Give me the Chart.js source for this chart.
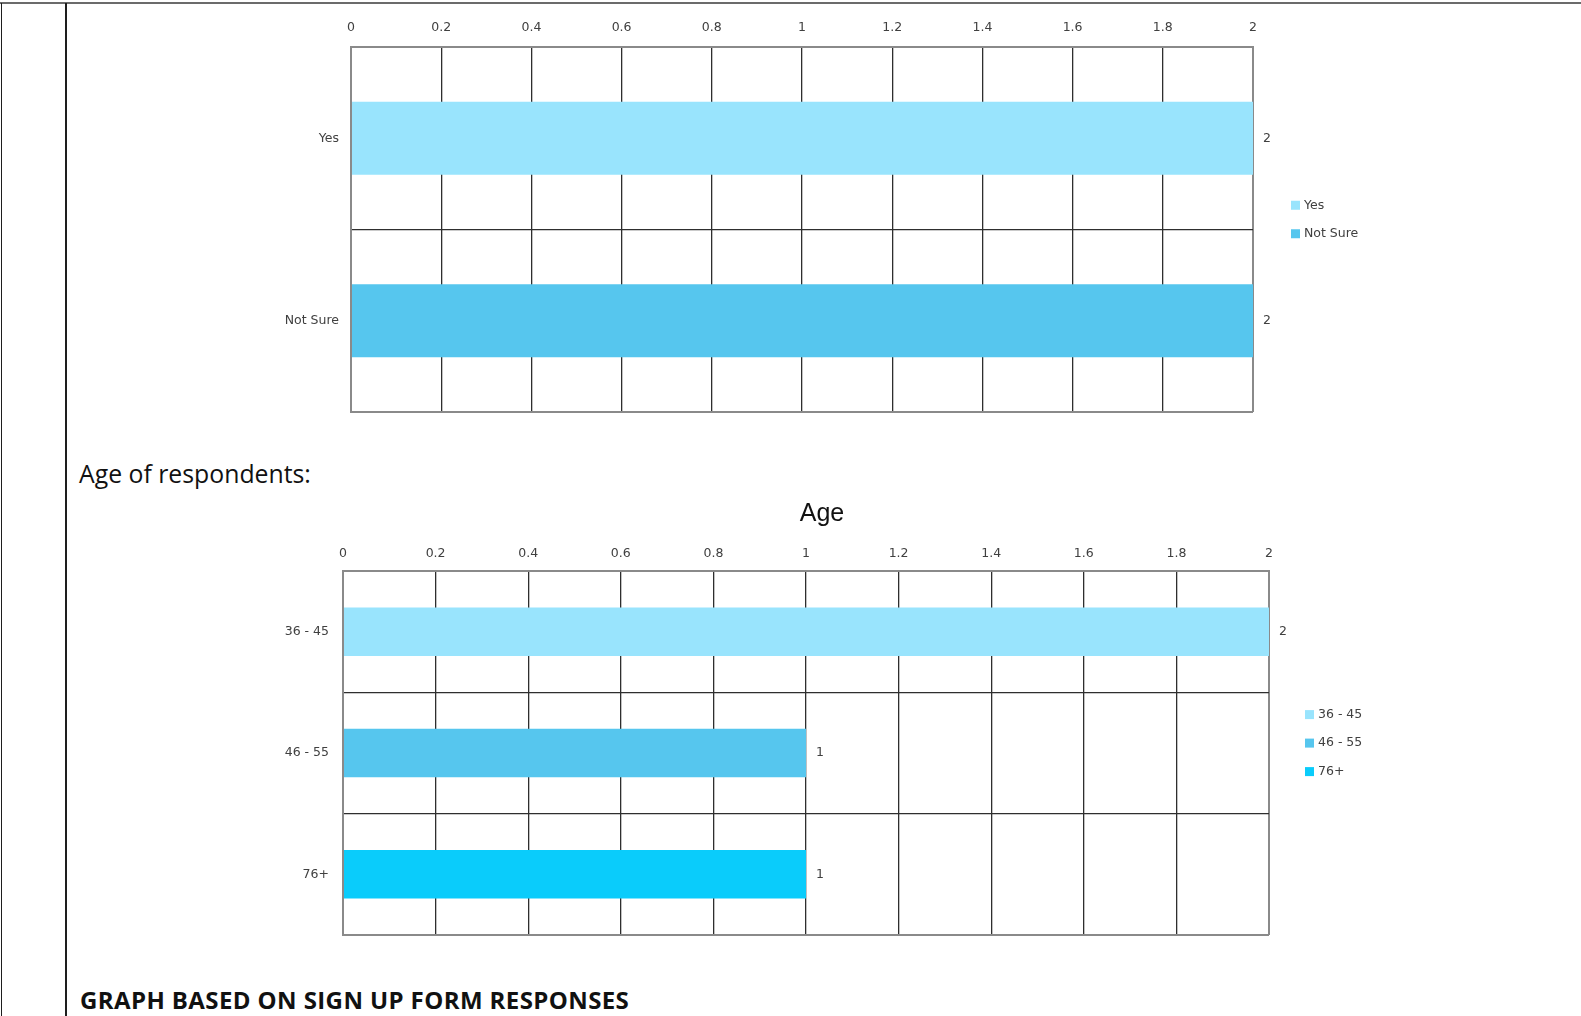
<!DOCTYPE html>
<html>
<head>
<meta charset="utf-8">
<script src="https://cdn.jsdelivr.net/npm/chart.js@4.4.1/dist/chart.umd.min.js"></script>
<style>
    html, body { margin: 0; padding: 0; background: #fff; }
    body { width: 1581px; height: 1016px; overflow: hidden; position: relative; }
    .rule { position: absolute; background: #1e1e1e; }
    .txt { position: absolute; font-family: "Open Sans"; color: #111; white-space: nowrap; line-height: 1; }
    canvas { position: absolute; left: 0; }
</style>
</head>
<body>
<div class="rule" style="left:0;top:2px;width:1581px;height:2px;background:#6b6b6b"></div>
<div class="rule" style="left:1px;top:3px;width:1px;height:1013px"></div>
<div class="rule" style="left:65px;top:3px;width:2px;height:1013px"></div>

<canvas id="interestChart" width="1581" height="430" style="top:0"></canvas>

<div class="txt" style="left:79px;top:461px;font-size:24.8px">Age of respondents:</div>

<canvas id="ageChart" width="1644" height="470" style="top:480px"></canvas>

<div class="txt" style="left:80px;top:988px;font-size:24px;font-weight:700;letter-spacing:0.4px">GRAPH BASED ON SIGN UP FORM RESPONSES</div>

<script>
// first chart (no visible title)
const interestLabels = ['Yes', 'Not Sure'];
const interestValues = [2, 2];
const interestColors = ['#99e4fd', '#56c6ee'];

// "Age" chart
const ageLabels = ['36 - 45', '46 - 55', '76+'];
const ageValues = [2, 1, 1];
const ageColors = ['#99e4fd', '#56c6ee', '#0accfb'];

const axisMin = 0;
const axisMax = 2;
const axisStep = 0.2;

Chart.defaults.font.family = '"DejaVu Sans"';
Chart.defaults.font.size = 12.5;
Chart.defaults.color = '#404040';

const edgeColor = '#8a8a8a';
const innerColor = '#2e2e2e';

// value printed just after the end of each bar
const valueLabels = {
    id: 'valueLabels',
    afterDatasetsDraw(chart) {
        const ctx = chart.ctx;
        const data = chart.data.datasets[0].data;
        ctx.save();
        ctx.font = '12.5px "DejaVu Sans"';
        ctx.fillStyle = '#404040';
        ctx.textAlign = 'left';
        ctx.textBaseline = 'middle';
        chart.getDatasetMeta(0).data.forEach((bar, i) => ctx.fillText(data[i], bar.x + 10, bar.y));
        ctx.restore();
    }
};

// excel style legend : one entry per category, right of the plot
const sideLegend = {
    id: 'sideLegend',
    afterDraw(chart, args, opts) {
        const ctx = chart.ctx;
        const area = chart.chartArea;
        const labels = chart.data.labels;
        const colors = chart.data.datasets[0].backgroundColor;
        const gap = 28.5;
        const y0 = (area.top + area.bottom) / 2 - 10 - gap * (labels.length - 1) / 2;
        const x = area.right + opts.offset;
        ctx.save();
        ctx.font = '12.5px "DejaVu Sans"';
        ctx.textAlign = 'left';
        ctx.textBaseline = 'middle';
        labels.forEach((label, i) => {
            const y = y0 + i * gap;
            ctx.fillStyle = colors[i];
            ctx.fillRect(x, y - 4.5, 9, 9);
            ctx.fillStyle = '#404040';
            ctx.fillText(label, x + 13, y);
        });
        ctx.restore();
    }
};

const isEdge = (c) => c.tick && (c.tick.value === axisMin || c.tick.value === axisMax);

// fixed box size, no extra room asked for the end labels
const fixBox = (scale, key, size) => {
    scale[key] = size;
    scale.paddingTop = 0;
    scale.paddingBottom = 0;
};

const buildConfig = (labels, values, colors, box) => ({
    type: 'bar',
    data: {
        labels: labels,
        datasets: [{
            data: values,
            backgroundColor: colors,
            borderWidth: 0,
            categoryPercentage: 0.4,
            barPercentage: 1
        }]
    },
    plugins: [valueLabels, sideLegend],
    options: {
        indexAxis: 'y',
        responsive: false,
        animation: false,
        events: [],
        layout: {
            padding: { left: 0, top: 0, right: 0, bottom: box.bottom }
        },
        plugins: {
            legend: { display: false },
            tooltip: { enabled: false },
            title: box.title ? {
                display: true,
                text: box.title,
                color: '#111',
                font: { family: '"Liberation Sans"', size: 25, weight: 'normal', lineHeight: 1.2 },
                padding: { top: 19, bottom: 0 }
            } : { display: false },
            sideLegend: { offset: box.legendOffset }
        },
        scales: {
            x: {
                position: 'top',
                min: axisMin,
                max: axisMax,
                ticks: {
                    stepSize: axisStep,
                    padding: box.xPad,
                    color: '#404040',
                    callback: (v) => String(Number(v.toFixed(1)))
                },
                grid: {
                    drawTicks: false,
                    color: (c) => isEdge(c) ? edgeColor : innerColor,
                    lineWidth: (c) => isEdge(c) ? 2 : 1.3
                },
                border: { color: edgeColor, width: 2 },
                afterFit: (scale) => { scale.height = box.xHeight; }
            },
            y: {
                ticks: { padding: box.yPad, color: '#404040' },
                grid: {
                    offset: true,
                    drawTicks: false,
                    color: (c) => (c.type !== 'tick' || c.index === 0) ? edgeColor : innerColor,
                    lineWidth: (c) => (c.type !== 'tick' || c.index === 0) ? 2 : 1.3
                },
                border: { color: edgeColor, width: 2 },
                afterFit: (scale) => fixBox(scale, 'width', box.yWidth)
            },
            // empty right-hand box that reserves room for the legend
            legendSpace: {
                type: 'category',
                position: 'right',
                offset: true,
                labels: labels,
                ticks: { display: false },
                grid: { display: false, drawTicks: false },
                border: { display: false },
                afterFit: (scale) => fixBox(scale, 'width', box.right)
            }
        }
    }
});

new Chart(document.getElementById('interestChart').getContext('2d'), buildConfig(
    interestLabels, interestValues, interestColors,
    { right: 328, bottom: 18, xHeight: 47, yWidth: 351, xPad: 12, yPad: 12, legendOffset: 38 }
));

new Chart(document.getElementById('ageChart').getContext('2d'), buildConfig(
    ageLabels, ageValues, ageColors,
    { title: 'Age', right: 375, bottom: 15, xHeight: 42.2, yWidth: 343, xPad: 10, yPad: 14, legendOffset: 36 }
));
</script>
</body>
</html>
